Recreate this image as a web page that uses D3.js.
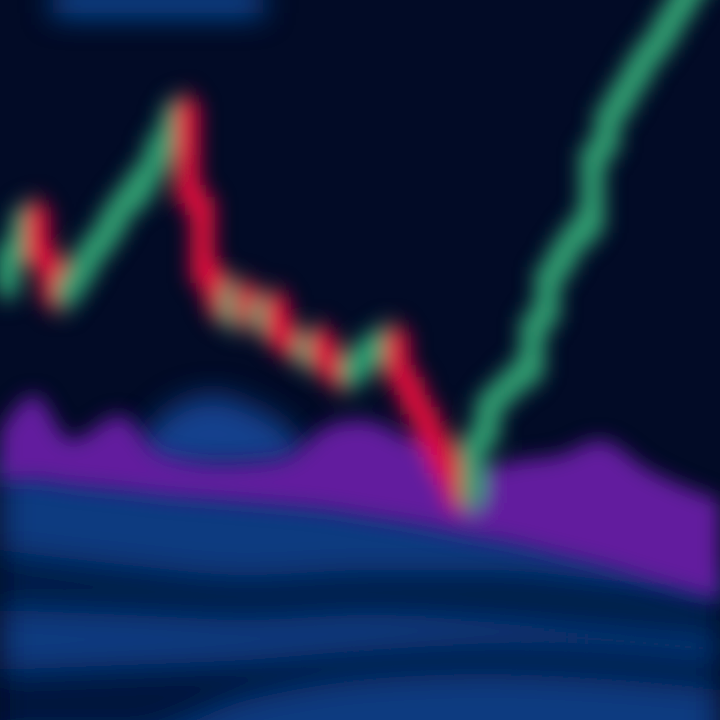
<!DOCTYPE html>
<html><head><meta charset="utf-8">
<script src="https://cdn.jsdelivr.net/npm/d3@7"></script>
<style>html,body{margin:0;padding:0;background:#020b26;}svg{display:block;}</style>
</head><body>
<svg id="chart" width="720" height="720"></svg>
<script>
// Candle data (index = session), prices
const candleIndex = d3.range(48);
const opens  = [43.0,47.0,51.0,46.0,42.0,44.0,46.5,48.5,51.0,52.5,55.0,58.0,61.5,52.0,44.5,40.0,43.0,39.5,42.0,38.5,36.0,38.5,36.0,34.0,35.5,37.0,38.5,34.0,31.0,28.0,25.0,22.0,28.0,32.0,33.5,34.5,40.0,45.0,47.5,49.0,57.0,61.0,63.5,66.0,68.0,70.5,73.0,75.0];
const closes = [47.0,50.5,46.0,42.0,44.0,46.5,48.5,51.0,53.0,55.0,58.0,61.0,52.0,44.0,41.0,43.0,40.0,41.5,38.0,37.0,38.0,35.5,34.0,36.0,37.5,38.5,34.0,31.0,28.0,25.0,22.0,28.0,32.0,33.5,35.0,40.0,45.0,47.5,49.5,57.0,61.0,63.5,66.0,68.0,70.5,73.0,75.0,77.0];

// Volume band (purple) at fractional session positions
const volIndex  = [-0.5,1.8,4.2,7.5,10.2,14.2,18.2,21.5,23.5,27.5,30.8,34.2,36.8,39.5,42.8,47.5];
const volTop    = [29.0,32.5,28.0,30.5,26.5,25.5,26.0,29.5,30.0,27.5,25.0,26.0,26.5,28.0,25.0,22.0];
const volBase   = [24.0,24.0,23.5,23.0,22.5,22.0,21.5,21.0,20.5,19.5,18.5,17.5,16.5,15.5,14.0,12.0];

// Lower depth panel (blue) bands
const depthIndex = [-0.5,8,16,24,32,40,47.5];
const depthDark1Top = [17.0,15.5,14.5,15.0,15.0,14.0,12.5];
const depthDark1Bot = [11.0,10.5,10.0,10.5,10.0,9.0,8.0];
const depthDark2Top = [5.0,5.5,6.0,7.0,7.5,7.0,6.0];
const depthDark2Bot = [-2,-2,2.0,4.0,4.5,4.0,3.0];

// Highlight blob above volume
const blobIndex = [8.5,10,12,14,16,18,20];
const blobTop   = [27.5,30.0,32.0,32.5,31.5,30.0,27.0];
const blobBase  = [25.5,25.0,25.0,25.0,25.0,25.0,25.5];

// Header band at top
const headerIndex = [3,17];
const headerTop = [73.0,73.0];
const headerBase = [70.5,70.5];

const W = 720, H = 720;
const svg = d3.select("#chart");
const x = d3.scaleBand().domain(candleIndex).range([0, W]).padding(0.04);
const xl = d3.scaleLinear().domain([0, 47]).range([x(0)+x.bandwidth()/2, x(47)+x.bandwidth()/2]);
const y = d3.scaleLinear().domain([0, 72]).range([H, 0]);

const defs = svg.append("defs");
defs.append("filter").attr("id","blur").attr("x","-20%").attr("y","-20%").attr("width","140%").attr("height","140%")
  .append("feGaussianBlur").attr("stdDeviation", 10);
defs.append("filter").attr("id","blur2").attr("x","-20%").attr("y","-20%").attr("width","140%").attr("height","140%")
  .append("feGaussianBlur").attr("stdDeviation", 15);

svg.append("rect").attr("width", W).attr("height", H).attr("fill", "#020b26");

const gb = svg.append("g").attr("filter", "url(#blur2)");
const g = svg.append("g").attr("filter", "url(#blur)");

function band(idx, top, base){
  return d3.area().x((d,i)=>xl(idx[i])).y0((d,i)=>y(base[i])).y1((d,i)=>y(top[i])).curve(d3.curveMonotoneX)(idx);
}

// lower depth panel
gb.append("path").attr("d", band(volIndex, volBase.map(v=>v+2), volBase.map(()=>-5))).attr("fill", "#0a3a80");
gb.append("path").attr("d", band(depthIndex, depthDark1Top, depthDark1Bot)).attr("fill", "#03153d").attr("opacity", 0.85);
gb.append("path").attr("d", band(depthIndex, depthDark2Top, depthDark2Bot)).attr("fill", "#020e30").attr("opacity", 0.85);

// blob and volume band
gb.append("path").attr("d", band(blobIndex, blobTop, blobBase)).attr("fill", "#1a4aa0").attr("opacity", 0.85);
g.append("path").attr("d", band(volIndex, volTop, volBase)).attr("fill", "#621e9e");
gb.append("path").attr("d", band(headerIndex, headerTop, headerBase)).attr("fill", "#0f52a8");

// candles
const candles = candleIndex.map(i => ({i, o: opens[i], c: closes[i]}));
const cg = g.append("g");
cg.selectAll("line.wick").data(candles).join("line")
  .attr("x1", d => x(d.i) + x.bandwidth()/2).attr("x2", d => x(d.i) + x.bandwidth()/2)
  .attr("y1", d => y(Math.max(d.o, d.c) + 1.5)).attr("y2", d => y(Math.min(d.o, d.c) - 1.5))
  .attr("stroke", d => d.c >= d.o ? "#32a074" : "#e8103f").attr("stroke-width", 6);
cg.selectAll("rect.body").data(candles).join("rect")
  .attr("x", d => x(d.i) - 5).attr("width", x.bandwidth() + 10)
  .attr("y", d => y(Math.max(d.o, d.c)) - 3).attr("height", d => Math.max(2, Math.abs(y(d.o) - y(d.c))) + 6)
  .attr("fill", d => d.c >= d.o ? "#30a072" : "#e0103d");
</script>
</body></html>
